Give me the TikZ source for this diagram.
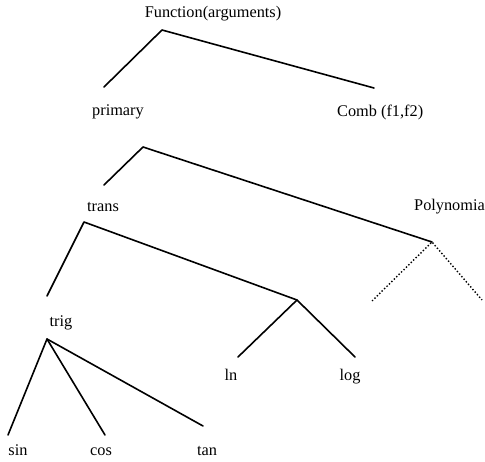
\documentclass[tikz,border=0pt]{standalone}
\usepackage{fontspec}
\setmainfont{Liberation Serif}
\begin{document}
\begin{tikzpicture}[x=1pt,y=-1pt,
  lbl/.style={anchor=base,inner sep=0pt,font=\fontsize{16.3}{19}\selectfont},
  branch/.style={line width=1.6pt,line cap=round,line join=round},
  dotbranch/.style={line width=1.4pt,dotted}]
\useasboundingbox (0,0) rectangle (485,462);
\clip (0,0) rectangle (485,462);
% labels
\node[lbl] (func) at (213,18) {Function(arguments)};
\node[lbl] (primary) at (118,116) {primary};
\node[lbl,anchor=base west] (comb) at (337,117) {Comb (f1,f2)};
\node[lbl] (trans) at (103,212) {trans};
\node[lbl,anchor=base west] (poly) at (414,211) {Polynomial};
\node[lbl] (trig) at (61,327) {trig};
\node[lbl] (ln) at (231,381) {ln};
\node[lbl] (log) at (350,381) {log};
\node[lbl] (sin) at (18,455) {sin};
\node[lbl] (cos) at (101,455) {cos};
\node[lbl] (tan) at (207,455) {tan};
% apexes and ends
\coordinate (a1) at (162,30);
\coordinate (a1l) at (104,87);
\coordinate (a1r) at (374,88);
\coordinate (a2) at (143,147);
\coordinate (a2l) at (104,185);
\coordinate (a2r) at (432,242);
\coordinate (a3) at (84,222);
\coordinate (a3l) at (47,296);
\coordinate (a3r) at (297,300);
\coordinate (a4l) at (372,301);
\coordinate (a4r) at (482,300);
\coordinate (a5l) at (238,357);
\coordinate (a5r) at (355,357);
\coordinate (a6) at (47,339);
\coordinate (a6a) at (8,435);
\coordinate (a6b) at (105,435);
\coordinate (a6c) at (203,426);
% branches
\draw[branch] (a1l) -- (a1) -- (a1r);
\draw[branch] (a2l) -- (a2) -- (a2r);
\draw[branch] (a3l) -- (a3) -- (a3r);
\draw[dotbranch] (a4l) -- (a2r) -- (a4r);
\draw[branch] (a5l) -- (a3r) -- (a5r);
\draw[branch] (a6a) -- (a6) -- (a6b);
\draw[branch] (a6) -- (a6c);
\end{tikzpicture}
\end{document}
